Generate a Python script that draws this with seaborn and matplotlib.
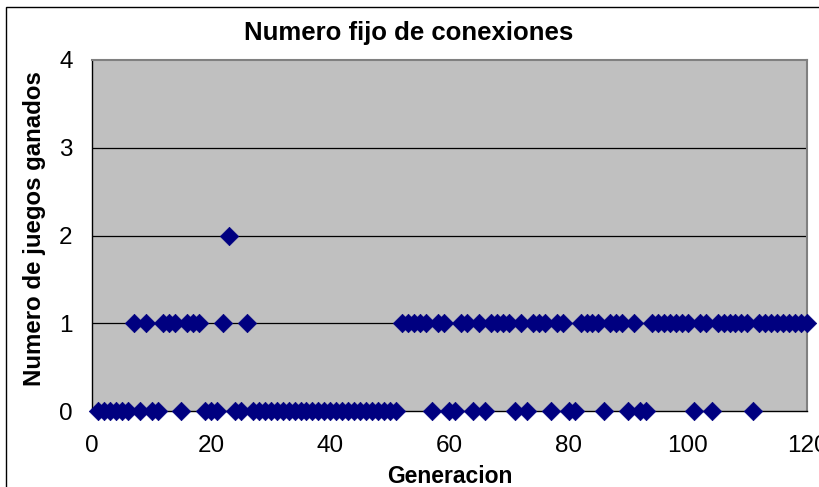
import matplotlib
matplotlib.use("Agg")
import matplotlib.pyplot as plt
import matplotlib.patches as mpatches
import seaborn as sns
import pandas as pd

# ---- data ----
generacion = list(range(1, 121))
juegos_ganados = [
    0, 0, 0, 0, 0, 0, 1, 0, 1, 0,
    0, 1, 1, 1, 0, 1, 1, 1, 0, 0,
    0, 1, 2, 0, 0, 1, 0, 0, 0, 0,
    0, 0, 0, 0, 0, 0, 0, 0, 0, 0,
    0, 0, 0, 0, 0, 0, 0, 0, 0, 0,
    0, 1, 1, 1, 1, 1, 0, 1, 1, 0,
    0, 1, 1, 0, 1, 0, 1, 1, 1, 1,
    0, 1, 0, 1, 1, 1, 0, 1, 1, 0,
    0, 1, 1, 1, 1, 0, 1, 1, 1, 0,
    1, 0, 0, 1, 1, 1, 1, 1, 1, 1,
    0, 1, 1, 0, 1, 1, 1, 1, 1, 1,
    0, 1, 1, 1, 1, 1, 1, 1, 1, 1,
]
x_ticks = [0, 20, 40, 60, 80, 100, 120]
y_ticks = [0, 1, 2, 3, 4]
title = "Numero fijo de conexiones"
x_label = "Generacion"
y_label = "Numero de juegos ganados"

df = pd.DataFrame({"Generacion": generacion, "Juegos": juegos_ganados})

sns.set_style("white")
plt.rcParams["font.family"] = ["Liberation Sans", "DejaVu Sans"]
plt.rcParams["text.color"] = "black"

W, H = 820, 487
fig = plt.figure(figsize=(W / 100, H / 100), dpi=100)
fig.patch.set_facecolor("white")

left, right, top, bottom = 92, 807, 60, 411
ax = fig.add_axes([left / W, (H - bottom) / H, (right - left) / W, (bottom - top) / H])
ax.set_facecolor("#C0C0C0")

for yv in y_ticks[1:-1]:
    ax.axhline(yv, color="black", lw=0.9, zorder=1)

sns.scatterplot(data=df, x="Generacion", y="Juegos", ax=ax, marker="D",
                color="#000080", edgecolor="#000080", linewidth=0.5, s=88,
                clip_on=False, zorder=5, legend=False)

ax.set_xlim(0, 120)
ax.set_ylim(0, 4)
ax.set_xticks(x_ticks)
ax.set_yticks(y_ticks)
ax.tick_params(axis="both", direction="out", length=6, width=1, color="black",
               labelsize=17.5, labelcolor="black")
ax.tick_params(axis="x", pad=11)
ax.tick_params(axis="y", pad=8)
ax.set_xlabel("")
ax.set_ylabel("")

for s in ["left", "bottom"]:
    ax.spines[s].set_color("black")
    ax.spines[s].set_linewidth(1.0)
    ax.spines[s].set_visible(True)
for s in ["top", "right"]:
    ax.spines[s].set_color("#808080")
    ax.spines[s].set_linewidth(1.5)
    ax.spines[s].set_visible(True)

fig.text(409 / W, (H - 40) / H, title, ha="center", va="baseline",
         fontsize=18.5, fontweight="bold", color="black")
fig.text(450 / W, (H - 483) / H, x_label, ha="center", va="baseline",
         fontsize=16.5, fontweight="bold", color="black")
fig.text(35 / W, (H - 229) / H, y_label, ha="center", va="center",
         rotation=90, fontsize=17.3, fontweight="bold", color="black")

border = mpatches.Rectangle((6 / W, -0.1), 1.2, (H - 7) / H + 0.1,
                            transform=fig.transFigure, fill=False,
                            edgecolor="black", lw=1.0, zorder=0)
fig.patches.append(border)

fig.savefig("out.png", dpi=100, facecolor="white")
